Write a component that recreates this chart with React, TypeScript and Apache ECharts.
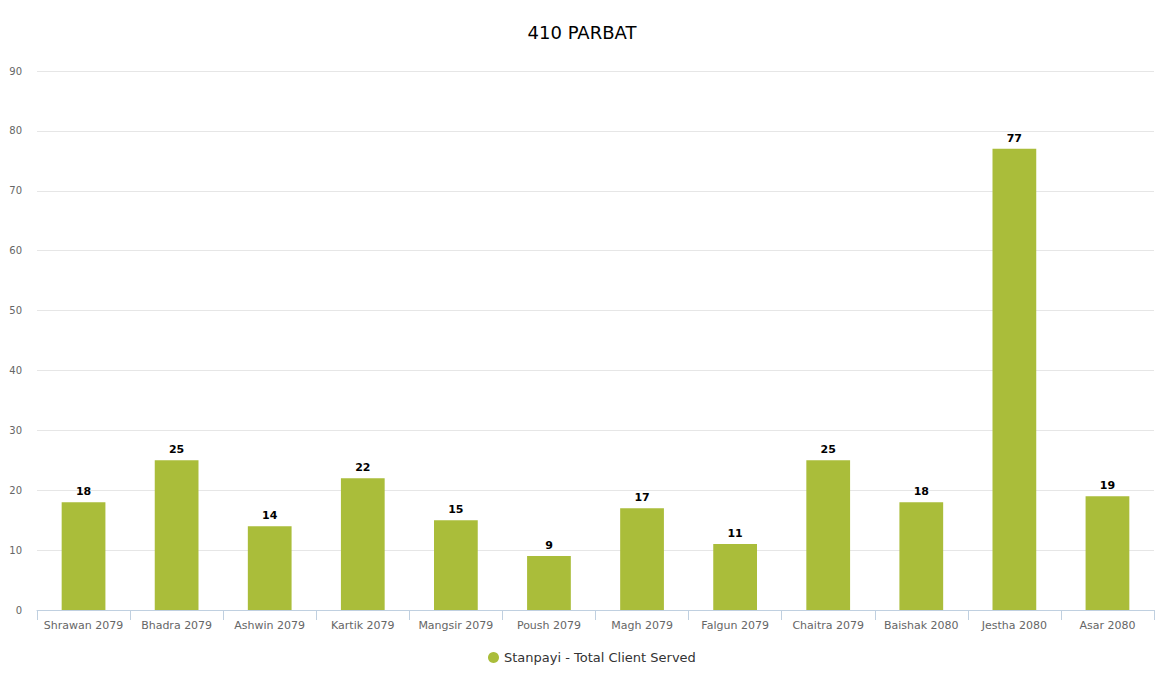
import React, { useEffect, useRef } from "react";
import * as echarts from "echarts";

const categories = [
  "Shrawan 2079",
  "Bhadra 2079",
  "Ashwin 2079",
  "Kartik 2079",
  "Mangsir 2079",
  "Poush 2079",
  "Magh 2079",
  "Falgun 2079",
  "Chaitra 2079",
  "Baishak 2080",
  "Jestha 2080",
  "Asar 2080",
];
const clientsServed = [18, 25, 14, 22, 15, 9, 17, 11, 25, 18, 77, 19];
const seriesName = "Stanpayi - Total Client Served";
const titleText = "410 PARBAT";

const FONT = "'DejaVu Sans', Verdana, sans-serif";

export default function App() {
  const ref = useRef<HTMLDivElement>(null);
  useEffect(() => {
    if (!ref.current) return;
    const chart = echarts.init(ref.current, undefined, { renderer: "svg" });
    chart.setOption({
      animation: false,
      backgroundColor: "#ffffff",
      textStyle: { fontFamily: FONT },
      title: {
        text: titleText,
        left: "center",
        top: 18,
        textStyle: { fontFamily: FONT, fontSize: 18, fontWeight: "normal", color: "#000000" },
      },
      legend: {
        bottom: 16,
        left: 483,
        icon: "circle",
        itemWidth: 11,
        itemHeight: 11,
        itemGap: 5,
        textStyle: { fontFamily: FONT, fontSize: 13, color: "#333333" },
        data: [seriesName],
      },
      grid: { left: 37, right: 10, top: 71, bottom: 75, containLabel: false },
      xAxis: {
        type: "category",
        data: categories,
        axisLine: { lineStyle: { color: "#c0d0e0", width: 1 } },
        axisTick: { show: true, alignWithLabel: false, interval: 0, length: 10, lineStyle: { color: "#c0d0e0" } },
        axisLabel: { interval: 0, fontFamily: FONT, fontSize: 11, color: "#666666", margin: 10 },
      },
      yAxis: {
        type: "value",
        min: 0,
        max: 90,
        interval: 10,
        axisLine: { show: false },
        axisTick: { show: false },
        splitLine: { lineStyle: { color: "#e6e6e6", width: 1 } },
        axisLabel: { fontFamily: FONT, fontSize: 10, color: "#666666", margin: 15 },
      },
      series: [
        {
          name: seriesName,
          type: "bar",
          data: clientsServed,
          barWidth: "47%",
          itemStyle: { color: "#aabd3a" },
          label: {
            show: true,
            position: "top",
            distance: 5,
            fontFamily: FONT,
            fontSize: 11,
            fontWeight: "bold",
            color: "#000000",
          },
        },
      ],
    });
    return () => chart.dispose();
  }, []);
  return (
    <div
      ref={ref}
      style={{ position: "absolute", left: 0, top: 0, width: 1164, height: 685 }}
    />
  );
}
